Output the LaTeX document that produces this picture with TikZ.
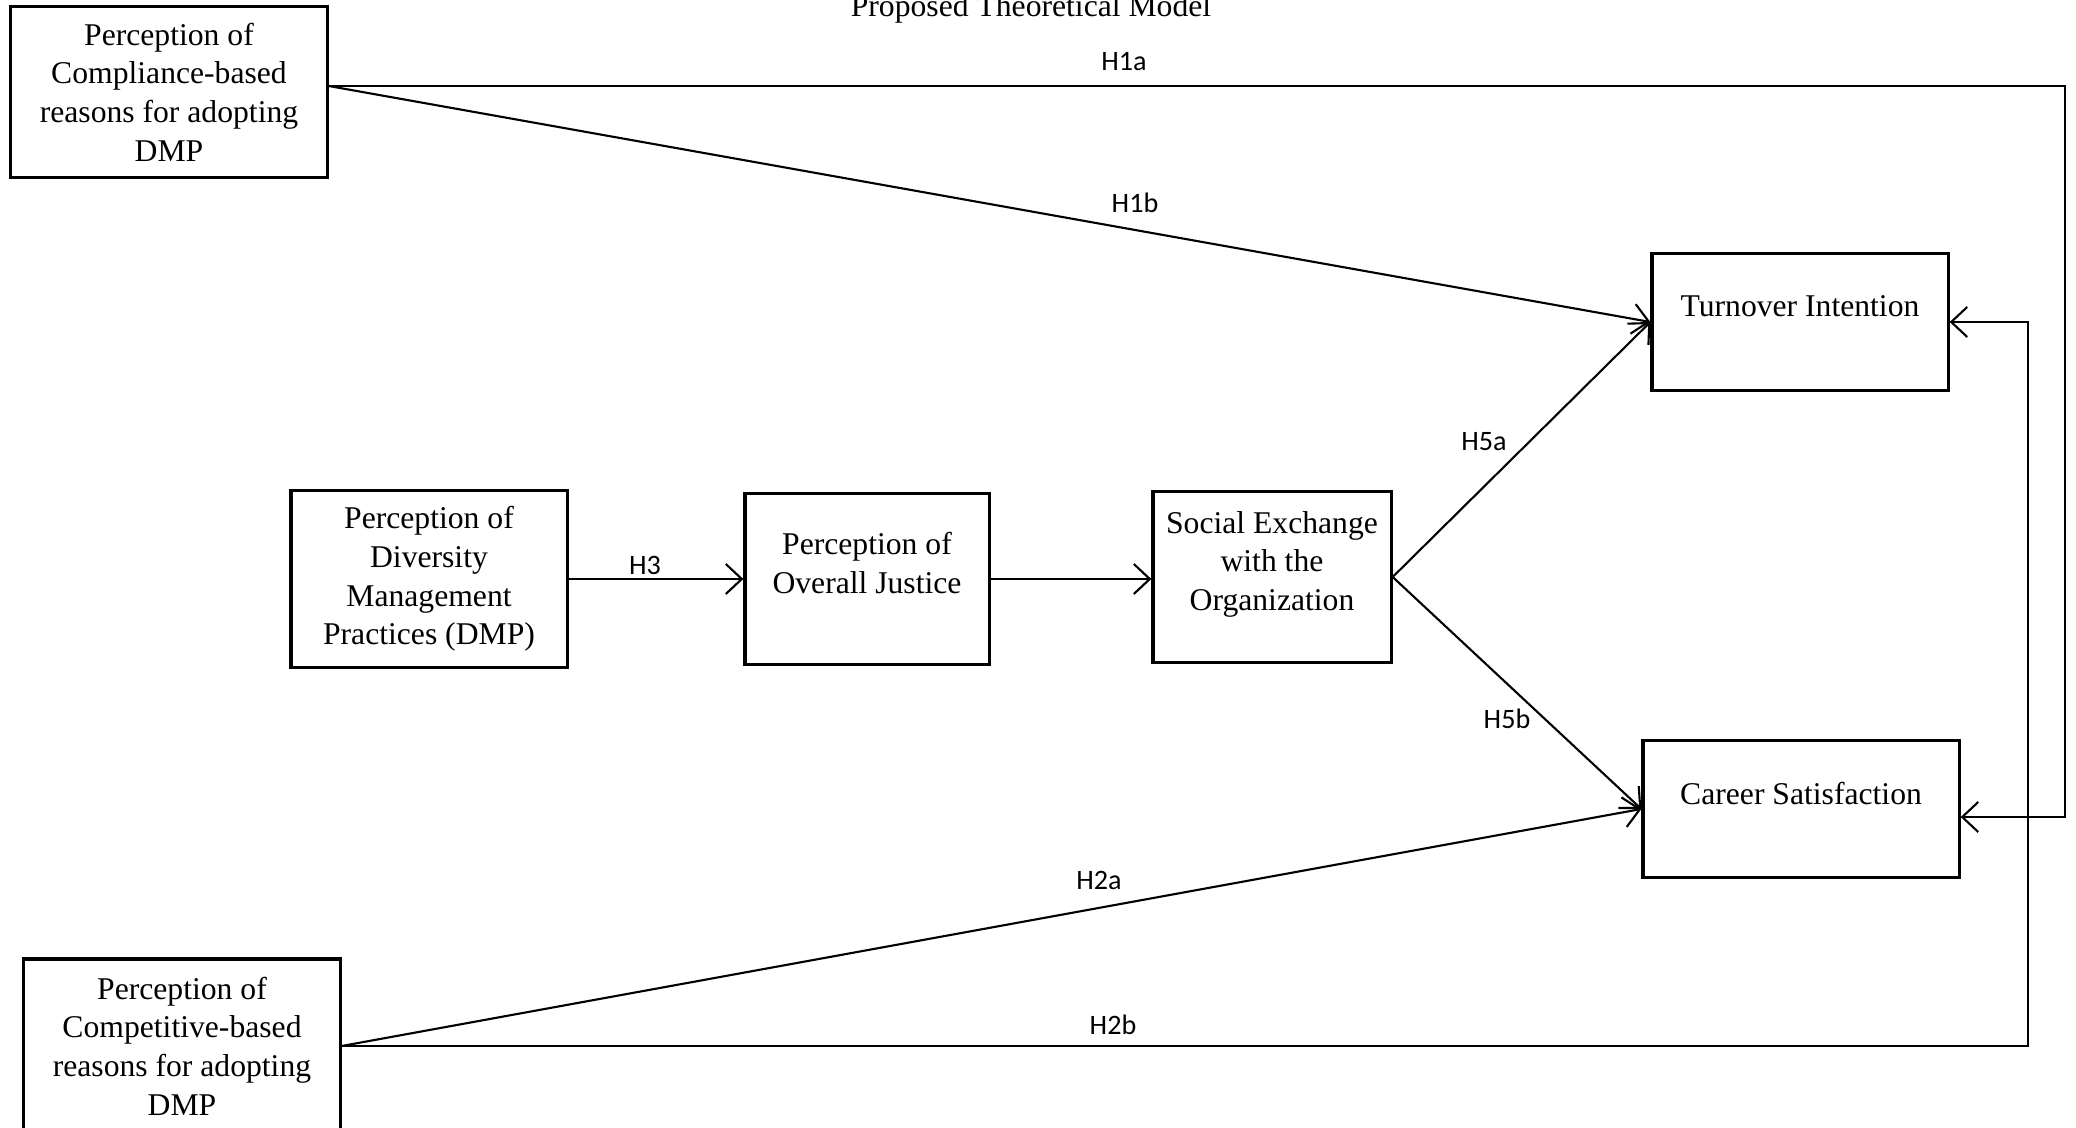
\documentclass[tikz,border=0pt]{standalone}
\usepackage{fontspec}
\setmainfont{Liberation Serif}
\newfontfamily\hypfont{Carlito}
\usetikzlibrary{arrows.meta}

\begin{document}
\begin{tikzpicture}[x=0.01cm,y=-0.01cm]
\tikzset{font=\fontsize{9}{11}\selectfont}
\tikzset{construct/.style={draw, line width=0.9pt, align=center, inner sep=2pt}}
\tikzset{toptext/.style={text depth=0.32cm}}
\tikzset{hyp/.style={font=\hypfont\fontsize{8}{10}\selectfont}}
\tikzset{link/.style={line width=0.6pt, -{Straight Barb[length=1.6mm,width=3mm]}}}
\useasboundingbox (0,0) rectangle (2076,1128);

\node[anchor=base] (title) at (1031,17) {Proposed Theoretical Model};

\node[construct, minimum width=3.16cm, minimum height=1.71cm] (comp) at (169,92)
  {Perception of\\Compliance-based\\reasons for adopting\\DMP};
\node[construct, minimum width=2.76cm, minimum height=1.77cm] (dmp) at (429,579)
  {Perception of\\Diversity\\Management\\Practices (DMP)};
\node[construct, toptext, minimum width=2.44cm, minimum height=1.71cm] (justice) at (867,579)
  {Perception of\\Overall Justice};
\node[construct, toptext, minimum width=2.38cm, minimum height=1.71cm] (social) at (1272,577)
  {Social Exchange\\with the\\Organization};
\node[construct, toptext, minimum width=2.96cm, minimum height=1.37cm] (turnover) at (1800,322)
  {Turnover Intention};
\node[construct, toptext, minimum width=3.16cm, minimum height=1.37cm] (career) at (1801,809)
  {Career Satisfaction};
\node[construct, minimum width=3.16cm, minimum height=1.74cm] (compet) at (182,1046)
  {Perception of\\Competitive-based\\reasons for adopting\\DMP};

\coordinate (compout) at ([yshift=0.06cm]comp.east);
\coordinate (railA) at (2065,0);
\coordinate (railB) at (2028,0);

% hypotheses
\draw[link] (compout) -- (compout -| railA) |- ([yshift=-0.08cm]career.east);
\draw[link] (compout) -- (turnover.west);
\draw[link] (dmp.east) -- (justice.west);
\draw[link] (justice.east) -- (justice.east -| social.west);
\draw[link] (social.east) -- (turnover.west);
\draw[link] (social.east) -- (career.west);
\draw[link] (compet.east) -- (career.west);
\draw[link] (compet.east) -- (compet.east -| railB) |- (turnover.east);

\node[hyp] (h1a) at (1124,62) {H1a};
\node[hyp] (h1b) at (1135,203) {H1b};
\node[hyp] (h3) at (645,565) {H3};
\node[hyp] (h5a) at (1484,442) {H5a};
\node[hyp] (h5b) at (1507,719) {H5b};
\node[hyp] (h2a) at (1099,880) {H2a};
\node[hyp] (h2b) at (1113,1025) {H2b};
\end{tikzpicture}
\end{document}
